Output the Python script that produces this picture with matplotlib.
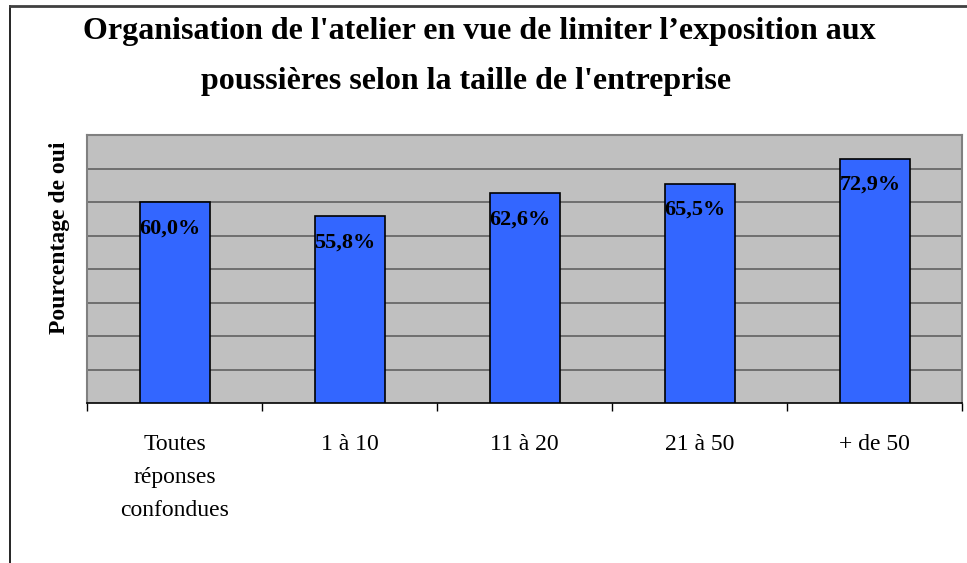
import numpy as np
import matplotlib.pyplot as plt

categories = ["Toutes\nréponses\nconfondues", "1 à 10", "11 à 20", "21 à 50", "+ de 50"]
values = [60.0, 55.8, 62.6, 65.5, 72.9]
labels = ["60,0%", "55,8%", "62,6%", "65,5%", "72,9%"]

plt.rcParams['font.family'] = ['Liberation Serif', 'DejaVu Serif']

fig = plt.figure(figsize=(9.67, 5.63), dpi=100)
ax = fig.add_axes([87 / 967, 1 - 403 / 563, 875 / 967, 268 / 563])

x = np.arange(len(values))
bars = ax.bar(x, values, width=0.4, color='#3366FF', edgecolor='black', linewidth=1.2, zorder=3)
for b, lab in zip(bars, labels):
    ax.text(b.get_x(), b.get_height() - 7.8, lab, ha='left', va='center',
            fontsize=16, fontweight='bold', zorder=4)

ax.set_facecolor('#C0C0C0')
ax.set_xlim(-0.5, len(values) - 0.5)
ax.set_ylim(0, 80)
ax.set_yticks(np.arange(10, 80, 10))
ax.yaxis.grid(True, color='#606060', linewidth=1.2, zorder=1)
ax.tick_params(axis='y', left=False, labelleft=False)

ax.set_xticks(np.arange(-0.5, len(values), 1))
ax.set_xticklabels([])
ax.set_xticks(x, minor=True)
ax.set_xticklabels(categories, minor=True, fontsize=17, linespacing=1.75, va='top')
ax.tick_params(axis='x', which='major', length=6, width=1, direction='out', color='black')
ax.tick_params(axis='x', which='minor', length=0, pad=22)

for s in ['top', 'left', 'right']:
    ax.spines[s].set_color('#808080')
    ax.spines[s].set_linewidth(1.5)
ax.spines['bottom'].set_color('black')
ax.spines['bottom'].set_linewidth(1.2)

ax.set_ylabel('Pourcentage de oui', fontsize=17, fontweight='bold')
ax.yaxis.set_label_coords(-0.019, 0.618)

fig.text(0.496, 1 - 31 / 563, "Organisation de l'atelier en vue de limiter l\u2019exposition aux",
         ha='center', va='center', fontsize=23, fontweight='bold')
fig.text(0.482, 1 - 82 / 563, "poussières selon la taille de l'entreprise",
         ha='center', va='center', fontsize=23, fontweight='bold')

# cadre du graphique (gauche et haut seulement)
fig.add_artist(plt.Line2D([9.5 / 967, 9.5 / 967], [0, 1 - 6 / 563], color='black', linewidth=1.2))
fig.add_artist(plt.Line2D([9.5 / 967, 1], [1 - 6 / 563, 1 - 6 / 563], color='#404040', linewidth=2))

fig.savefig('out.png', dpi=100)
